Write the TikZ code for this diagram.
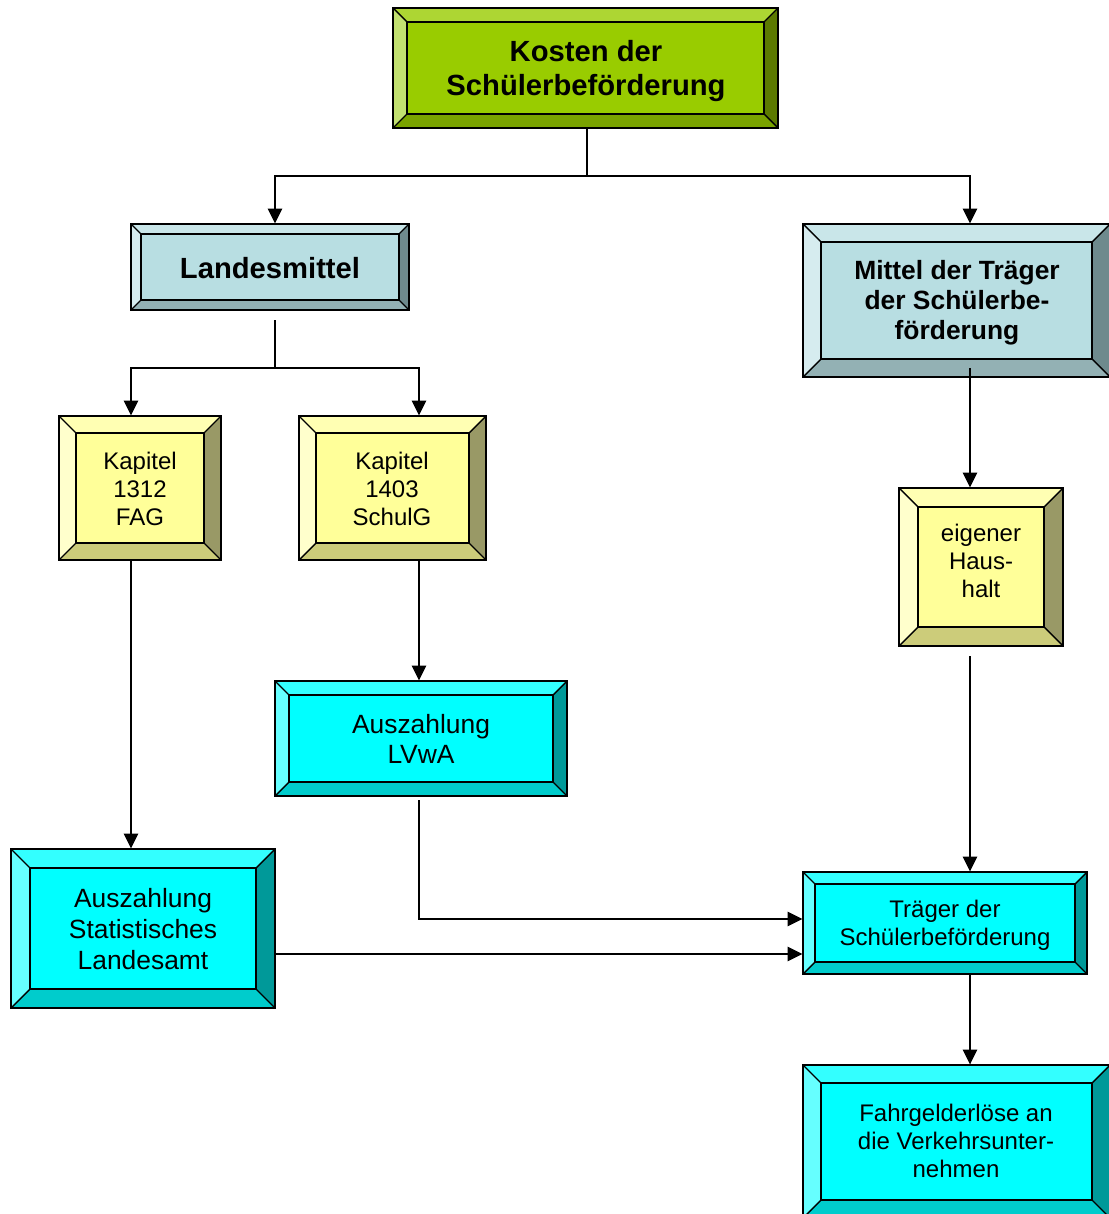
\documentclass[tikz,border=0pt]{standalone}
\usepackage{fontspec}
\setmainfont{Liberation Sans}
\usetikzlibrary{fit,calc,arrows.meta}
\definecolor{gC}{HTML}{99CC00}\definecolor{gT}{HTML}{ADD633}\definecolor{gL}{HTML}{C2E070}\definecolor{gR}{HTML}{5C7A00}\definecolor{gB}{HTML}{7AA300}
\definecolor{bC}{HTML}{B8DEE2}\definecolor{bT}{HTML}{C9E6E9}\definecolor{bL}{HTML}{D6ECEF}\definecolor{bR}{HTML}{6E8A8D}\definecolor{bB}{HTML}{93B1B4}
\definecolor{yC}{HTML}{FFFF99}\definecolor{yT}{HTML}{FFFFB3}\definecolor{yL}{HTML}{FFFFCC}\definecolor{yR}{HTML}{999966}\definecolor{yB}{HTML}{CCCC7A}
\definecolor{cC}{HTML}{00FFFF}\definecolor{cT}{HTML}{33FFFF}\definecolor{cL}{HTML}{66FFFF}\definecolor{cR}{HTML}{009999}\definecolor{cB}{HTML}{00CCCC}
\newcommand\bevbox[7]{% name x1 y1 x2 y2 bevel prefix
  \fill[#7C] (#2,#3) rectangle (#4,#5);
  \fill[#7T] (#2,#3) -- (#4,#3) -- ({#4-#6},{#3+#6}) -- ({#2+#6},{#3+#6}) -- cycle;
  \fill[#7B] (#2,#5) -- (#4,#5) -- ({#4-#6},{#5-#6}) -- ({#2+#6},{#5-#6}) -- cycle;
  \fill[#7L] (#2,#3) -- ({#2+#6},{#3+#6}) -- ({#2+#6},{#5-#6}) -- (#2,#5) -- cycle;
  \fill[#7R] (#4,#3) -- ({#4-#6},{#3+#6}) -- ({#4-#6},{#5-#6}) -- (#4,#5) -- cycle;
  \draw[edge] (#2,#3) rectangle (#4,#5);
  \draw[edge] ({#2+#6},{#3+#6}) rectangle ({#4-#6},{#5-#6});
  \draw[edge] (#2,#3) -- ({#2+#6},{#3+#6}) (#4,#3) -- ({#4-#6},{#3+#6})
              (#2,#5) -- ({#2+#6},{#5-#6}) (#4,#5) -- ({#4-#6},{#5-#6});
  \node[fit={(#2,#3) (#4,#5)}, inner sep=0pt] (#1) {};
}
\begin{document}
\begin{tikzpicture}[x=0.5pt,y=-0.5pt,
  edge/.style={black,line width=0.7pt},
  ln/.style={black,line width=1.2pt},
  arr/.style={ln,-{Triangle[length=7.5pt,width=7pt]}},
  tbig/.style={align=center,inner sep=0pt,font=\fontsize{14.6}{17}\selectfont\bfseries},
  tmid/.style={align=center,inner sep=0pt,font=\fontsize{13.2}{15}\selectfont\bfseries},
  treg/.style={align=center,inner sep=0pt,font=\fontsize{13.2}{15.3}\selectfont},
  tsml/.style={align=center,inner sep=0pt,font=\fontsize{12}{13.8}\selectfont}]
\useasboundingbox (0,0) rectangle (1108,1214);
\fill[white] (0,0) rectangle (1108,1214);
\bevbox{kos}{393}{8}{778}{128}{14}{g}
\bevbox{lm}{131}{224}{409}{310}{10}{b}
\bevbox{mt}{803}{224}{1110}{377}{18}{b}
\bevbox{k1}{59}{416}{221}{560}{17}{y}
\bevbox{k2}{299}{416}{486}{560}{17}{y}
\bevbox{eh}{899}{488}{1063}{646}{19}{y}
\bevbox{lv}{275}{681}{567}{796}{14}{c}
\bevbox{sl}{11}{849}{275}{1008}{19}{c}
\bevbox{tr}{803}{872}{1087}{974}{12}{c}
\bevbox{fg}{803}{1065}{1110}{1218}{18}{c}
\node[tbig] (kos-t) at (586,71) {Kosten der\\Schülerbeförderung};
\node[tbig] (lm-t) at (270,268) {Landesmittel};
\node[tmid] (mt-t) at (957,303) {Mittel der Träger\\der Schülerbe-\\förderung};
\node[tsml] (k1-t) at (140,489) {Kapitel\\1312\\FAG};
\node[tsml] (k2-t) at (392,489) {Kapitel\\1403\\SchulG};
\node[tsml] (eh-t) at (981,561) {eigener\\Haus-\\halt};
\node[treg] (lv-t) at (421,739) {Auszahlung\\LVwA};
\node[treg] (sl-t) at (143,929) {Auszahlung\\Statistisches\\Landesamt};
\node[tsml] (tr-t) at (945,925) {Träger der\\Schülerbeförderung};
\node[tsml] (fg-t) at (956,1141) {Fahrgelderlöse an\\die Verkehrsunter-\\nehmen};
% trunk coordinates
\coordinate (xK) at (587,0);
\coordinate (xLM) at (275,0);
\coordinate (xL) at (131,0);
\coordinate (xK2) at (419,0);
\coordinate (xR) at (970,0);
\coordinate (topj) at (587,176);
\coordinate (lmj) at (275,368);
\coordinate (ys) at (0,954);
\draw[ln] (kos.south -| xK) -- (topj);
\draw[arr] (topj) -| (lm.north -| xLM);
\draw[arr] (topj) -| (mt.north -| xR);
\draw[ln] ($(lm.south -| xLM)+(0,10)$) -- (lmj);
\draw[arr] (lmj) -| (k1.north -| xL);
\draw[arr] (lmj) -| (k2.north -| xK2);
\draw[arr] ($(mt.south -| xR)+(0,-9)$) -- (eh.north -| xR);
\draw[arr] (k1.south -| xL) -- (sl.north -| xL);
\draw[arr] (k2.south -| xK2) -- (lv.north -| xK2);
\draw[arr] ($(eh.south -| xR)+(0,10)$) -- (tr.north -| xR);
\draw[arr] ($(lv.south -| xK2)+(0,4)$) |- ($(tr.west)+(0,-4)$);
\draw[arr] (sl.east |- ys) -- (tr.west |- ys);
\draw[arr] (tr.south -| xR) -- (fg.north -| xR);
\end{tikzpicture}
\end{document}
